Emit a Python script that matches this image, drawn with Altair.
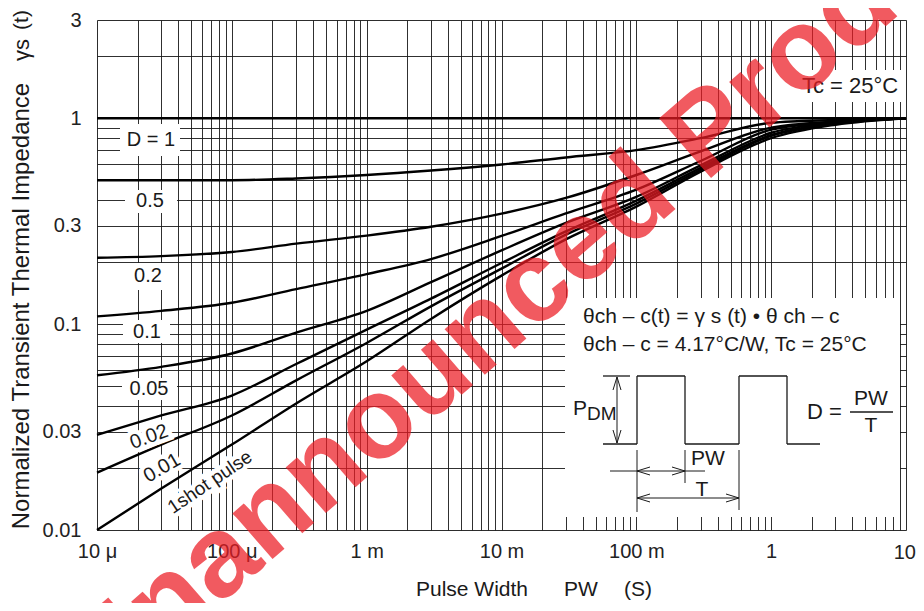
import altair as alt
import pandas as pd

# ---------------- data ----------------
PW = [1e-5, 3e-5, 1e-4, 3e-4, 1e-3, 3e-3, 1e-2, 3e-2, 1e-1, 3e-1, 1.0, 3.0, 10.0]

D_1 = [1, 1, 1, 1, 1, 1, 1, 1, 1, 1, 1, 1, 1]
D_05 = [0.50, 0.50, 0.50, 0.51, 0.53, 0.557, 0.596, 0.645, 0.70, 0.80, 0.95, 0.98, 1.0]
D_02 = [0.21, 0.214, 0.224, 0.246, 0.269, 0.297, 0.344, 0.41, 0.53, 0.69, 0.90, 0.965, 1.0]
D_01 = [0.109, 0.116, 0.127, 0.148, 0.175, 0.207, 0.268, 0.345, 0.45, 0.62, 0.88, 0.96, 1.0]
D_005 = [0.0564, 0.062, 0.072, 0.091, 0.116, 0.16, 0.228, 0.31, 0.415, 0.59, 0.85, 0.95, 1.0]
D_002 = [0.029, 0.036, 0.045, 0.064, 0.094, 0.133, 0.198, 0.282, 0.398, 0.574, 0.83, 0.945, 1.0]
D_001 = [0.019, 0.026, 0.036, 0.0533, 0.081, 0.122, 0.186, 0.272, 0.385, 0.562, 0.82, 0.94, 1.0]
SINGLE = [0.010, 0.0159, 0.026, 0.0412, 0.066, 0.106, 0.172, 0.258, 0.372, 0.55, 0.80, 0.93, 1.0]

SERIES = {"D = 1": D_1, "0.5": D_05, "0.2": D_02, "0.1": D_01, "0.05": D_005,
          "0.02": D_002, "0.01": D_001, "1shot pulse": SINGLE}

X_DECADE_LABELS = ["10 μ", "100 μ", "1 m", "10 m", "100 m", "1", "10"]
Y_TICK_VALUES = [0.01, 0.03, 0.1, 0.3, 1, 3]
Y_TICK_LABELS = ["0.01", "0.03", "0.1", "0.3", "1", "3"]

rows = []
for name, vals in SERIES.items():
    for x, v in zip(PW, vals):
        rows.append({"series": name, "pw": x, "z": v})
df = pd.DataFrame(rows)
one = pd.DataFrame({"k": [0]})

# grid values
x_grid = [round(k * 10.0 ** e, 12) for e in range(-5, 1) for k in range(1, 10)] + [10.0]
y_grid = [round(k * 10.0 ** e, 12) for e in range(-2, 0) for k in range(1, 10)] + [1.0, 2.0, 3.0]

# last decade label ("10") is drawn separately so that it stays inside the page
x_axis_labels = X_DECADE_LABELS[:-1] + [""]
x_label_expr = (
    "abs(log(datum.value)/LN10 - round(log(datum.value)/LN10)) < 0.001 ? "
    + str(x_axis_labels).replace('"', "'")
    + "[round(log(datum.value)/LN10) + 5] : ''"
)
y_label_expr = ""
for v, lab in zip(Y_TICK_VALUES, Y_TICK_LABELS):
    y_label_expr += f"abs(datum.value/{v} - 1) < 1e-6 ? '{lab}' : "
y_label_expr += "''"

FONT = "Liberation Sans"
INK = "#1a1a1a"
W, H = 809, 510
OX, OY = 97, 20  # plot origin in page pixels


def px(x):
    return x - OX


def py(y):
    return y - OY


xscale = alt.Scale(type="log", domain=[1e-5, 10], nice=False)
yscale = alt.Scale(type="log", domain=[0.01, 3], nice=False)

curves = alt.Chart(df).mark_line(color="black", strokeWidth=2.4, interpolate="monotone").encode(
    x=alt.X("pw:Q", scale=xscale,
            axis=alt.Axis(values=x_grid, labelExpr=x_label_expr, title=None,
                          grid=True, gridColor=INK, gridWidth=1, gridOpacity=0.9,
                          ticks=False, domain=False, labelFontSize=20, labelFont=FONT,
                          labelColor="#222", labelPadding=11, labelOverlap=False,
                          labelFlush=False, labelBound=False)),
    y=alt.Y("z:Q", scale=yscale,
            axis=alt.Axis(values=y_grid, labelExpr=y_label_expr, title=None,
                          grid=True, gridColor=INK, gridWidth=1, gridOpacity=0.9,
                          ticks=False, domain=False, labelFontSize=20, labelFont=FONT,
                          labelColor="#222", labelPadding=16, labelOverlap=False,
                          labelFlush=False, labelBound=False)),
    detail="series:N",
)


def rect(x1, y1, x2, y2):
    return alt.Chart(one).mark_rect(color="white").encode(
        x=alt.value(px(x1)), x2=alt.value(px(x2)), y=alt.value(py(y1)), y2=alt.value(py(y2))
    )


def seg(x1, y1, x2, y2, w=1.3):
    return alt.Chart(one).mark_rule(color=INK, strokeWidth=w).encode(
        x=alt.value(px(x1)), x2=alt.value(px(x2)), y=alt.value(py(y1)), y2=alt.value(py(y2))
    )


def text(t, x, y, size=19, align="center", angle=0, halo=False, weight="normal", fill=INK,
         opacity=1.0):
    kw = dict(text=t, fontSize=size, font=FONT, align=align, baseline="middle", angle=angle,
              fontWeight=weight, opacity=opacity)
    out = []
    if halo:
        out.append(alt.Chart(one).mark_text(fill="white", stroke="white", strokeWidth=9, **kw).encode(
            x=alt.value(px(x)), y=alt.value(py(y))))
    out.append(alt.Chart(one).mark_text(fill=fill, **kw).encode(x=alt.value(px(x)), y=alt.value(py(y))))
    return out


# white boxes hiding the grid
boxes = [
    rect(565, 298, 900, 517),   # formula / waveform panel
    rect(797, 70, 903, 102),    # Tc label
    rect(120, 124, 180, 156),   # D = 1
    rect(125, 190, 177, 213),   # 0.5
    rect(127, 263, 170, 290),   # 0.2
    rect(123, 320, 170, 343),   # 0.1
    rect(122, 378, 177, 400),   # 0.05
]

labels = []
labels += text("D = 1", 151, 140, size=20)
labels += text("0.5", 150, 201, size=20)
labels += text("0.2", 148, 276, size=20)
labels += text("0.1", 147, 332, size=20)
labels += text("0.05", 149, 389, size=20)
labels += text("0.02", 149, 437, size=20, angle=340, halo=True)
labels += text("0.01", 162, 468, size=20, angle=330, halo=True)
labels += text("1shot pulse", 210, 482, size=19, angle=326, halo=True)
labels += text("Tc = 25°C", 850, 86, size=22)
labels += text(X_DECADE_LABELS[-1], 916, 553, size=20, align="right", fill="#222")

# formula panel
labels += text("θch – c(t) = γ s (t) • θ ch – c", 583, 317, size=21, align="left")
labels += text("θch – c = 4.17°C/W, Tc = 25°C", 583, 345, size=21, align="left")
labels += text("P", 573, 409, size=21, align="left")
labels += text("DM", 587, 414, size=19, align="left")
labels += text("D =", 807, 412, size=22, align="left")
labels += text("PW", 871, 399, size=21)
labels += text("T", 871, 426, size=21)
labels += text("PW", 708, 459, size=21)
labels += text("T", 702, 490, size=21)

B, T = 444, 376
diagram = [
    seg(603, B, 637, B), seg(637, B, 637, T), seg(637, T, 685, T), seg(685, T, 685, B),
    seg(685, B, 739, B), seg(739, B, 739, T), seg(739, T, 787, T), seg(787, T, 787, B),
    seg(787, B, 820, B),
    seg(603, T, 630, T),
    seg(617, T + 1, 617, B - 1, 1.0),
    seg(617, T + 1, 613, T + 14, 1.0), seg(617, T + 1, 621, T + 14, 1.0),
    seg(617, B - 1, 613, B - 14, 1.0), seg(617, B - 1, 621, B - 14, 1.0),
    seg(637, 450, 637, 512, 1.0), seg(685, 450, 685, 483, 1.0), seg(739, 450, 739, 510, 1.0),
    seg(610, 471, 705, 471, 1.0),
    seg(637, 471, 650, 467, 1.0), seg(637, 471, 650, 475, 1.0),
    seg(685, 471, 672, 467, 1.0), seg(685, 471, 672, 475, 1.0),
    seg(637, 498, 739, 498, 1.0),
    seg(637, 498, 650, 494, 1.0), seg(637, 498, 650, 502, 1.0),
    seg(739, 498, 726, 494, 1.0), seg(739, 498, 726, 502, 1.0),
    seg(850, 412, 893, 412, 1.3),
]

titles = []
titles += text("Normalized Transient Thermal Impedance", 22, 306, size=24, angle=270)
titles += text("γs", 22, 50, size=22, angle=270)
titles += text("(t)", 22, 20, size=21, angle=270)
titles += text("Pulse Width", 472, 590, size=21)
titles += text("PW", 581, 590, size=21)
titles += text("(S)", 638, 590, size=21)

watermark = text("Unannounced Product", 545, 276, size=115, angle=319, weight="bold",
                 fill="#ec1c24", opacity=0.72)

chart = alt.layer(*boxes, curves, *diagram, *labels, *titles, *watermark).properties(
    width=W, height=H,
    autosize=alt.AutoSizeParams(type="none"),
    padding={"left": 89, "top": 12, "right": 10, "bottom": 73},
).configure_view(stroke="#111", strokeWidth=2.6).configure(background="white")

chart.save("out.html", embed_options={"renderer": "svg", "actions": False})
